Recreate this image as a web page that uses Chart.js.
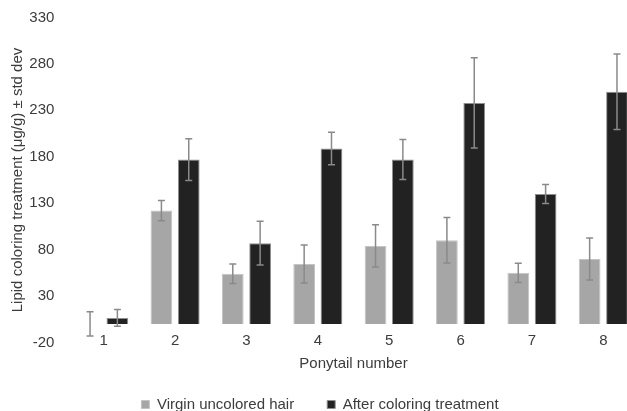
<!DOCTYPE html>
<html>
<head>
<meta charset="utf-8">
<script src="https://cdn.jsdelivr.net/npm/chart.js@4.4.1/dist/chart.umd.min.js"></script>
<style>
  html, body { margin: 0; padding: 0; overflow: hidden; background: #fff; }
  #wrap { position: absolute; left: 0; top: 0; width: 640px; height: 422px; }
</style>
</head>
<body>
<div id="wrap"><canvas id="c"></canvas></div>
<script>
const categories = ['1', '2', '3', '4', '5', '6', '7', '8'];
const virginMeans = [0, 122, 54, 64.5, 84, 90, 55, 70];
const virginSD = [13, 11, 10.5, 20.5, 22.7, 24.5, 10.4, 22.6];
const afterMeans = [6.5, 177, 87, 189, 177, 238, 140, 250];
const afterSD = [9, 22.5, 23.5, 17.5, 21.5, 48.6, 10.2, 40.7];
const yTicks = [-20, 30, 80, 130, 180, 230, 280, 330];
const seriesNames = ['Virgin uncolored hair', 'After coloring treatment'];
const yTitle = 'Lipid coloring treatment (\u03bcg/g) \u00b1 std dev';
const xTitle = 'Ponytail number';

const FONT = "'Liberation Sans', Arial, sans-serif";
const TEXT = '#3c3c3c';
const FS = 15;

const errorBars = {
  id: 'errorBars',
  afterDatasetsDraw(chart) {
    const ctx = chart.ctx;
    const y = chart.scales.y;
    const sds = [virginSD, afterSD];
    const means = [virginMeans, afterMeans];
    ctx.save();
    ctx.strokeStyle = '#8a8a8a';
    ctx.lineWidth = 1.5;
    chart.data.datasets.forEach((ds, i) => {
      const meta = chart.getDatasetMeta(i);
      meta.data.forEach((el, j) => {
        const m = means[i][j], s = sds[i][j];
        const x = el.x;
        const yt = y.getPixelForValue(m + s);
        const yb = y.getPixelForValue(m - s);
        const cap = 3.5;
        ctx.beginPath();
        ctx.moveTo(x, yt); ctx.lineTo(x, yb);
        ctx.moveTo(x - cap, yt); ctx.lineTo(x + cap, yt);
        ctx.moveTo(x - cap, yb); ctx.lineTo(x + cap, yb);
        ctx.stroke();
      });
    });
    ctx.restore();
  }
};

new Chart(document.getElementById('c'), {
  type: 'bar',
  data: {
    labels: categories,
    datasets: [
      {
        label: seriesNames[0],
        data: virginMeans,
        backgroundColor: '#a6a6a6',
        borderColor: '#c4c4c4',
        borderWidth: 1,
        categoryPercentage: 0.766,
        barPercentage: 0.795
      },
      {
        label: seriesNames[1],
        data: afterMeans,
        backgroundColor: '#222222',
        borderColor: '#8f8f8f',
        borderWidth: 1,
        categoryPercentage: 0.766,
        barPercentage: 0.795
      }
    ]
  },
  options: {
    responsive: true,
    maintainAspectRatio: false,
    devicePixelRatio: 1,
    animation: false,
    layout: { padding: { left: 1, right: 1, top: 17, bottom: 0 } },
    plugins: {
      tooltip: { enabled: false },
      legend: {
        position: 'bottom',
        labels: {
          boxWidth: 8,
          boxHeight: 8,
          padding: 33,
          color: TEXT,
          font: { family: FONT, size: FS }
        }
      }
    },
    scales: {
      x: {
        grid: { display: false, drawTicks: false },
        border: { display: false },
        ticks: { color: TEXT, font: { family: FONT, size: FS }, mirror: true, padding: -7.5 },
        title: {
          display: true,
          text: xTitle,
          color: TEXT,
          font: { family: FONT, size: FS },
          padding: { top: 27.7, bottom: -9.2 }
        }
      },
      y: {
        min: -20,
        max: 330,
        afterBuildTicks(scale) { scale.ticks = yTicks.map(v => ({ value: v })); },
        grid: {
          drawTicks: false,
          color: (c) => (c.tick && c.tick.value === 0 ? '#d9d9d9' : 'rgba(0,0,0,0)'),
          lineWidth: 1
        },
        border: { display: false },
        ticks: { color: TEXT, font: { family: FONT, size: FS, lineHeight: 0.5 }, padding: 13.7 },
        title: {
          display: true,
          text: yTitle,
          color: TEXT,
          font: { family: FONT, size: FS },
          padding: { top: 7.5, bottom: -10.9 }
        }
      }
    }
  },
  plugins: [errorBars]
});
</script>
</body>
</html>
